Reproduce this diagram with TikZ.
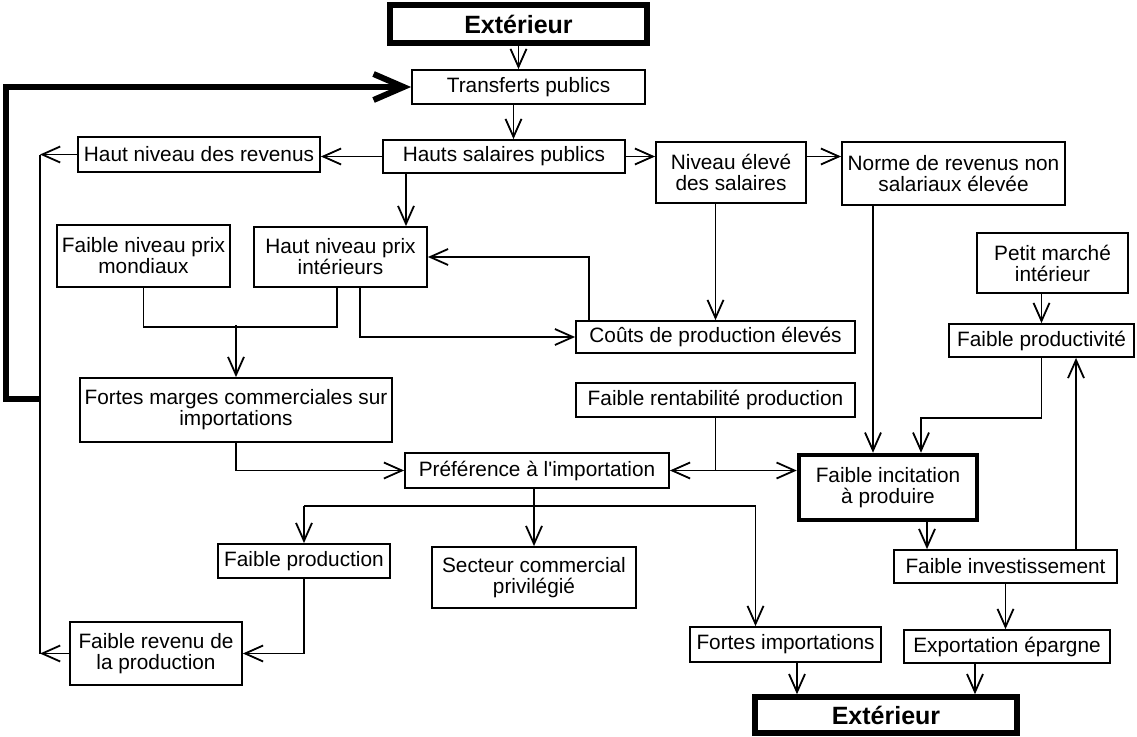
\documentclass[tikz,border=0pt]{standalone}
\usepackage{fontspec}
\setmainfont{Liberation Sans}
\usetikzlibrary{arrows.meta}
\tikzset{
    wh/.style 2 args={minimum width=#1, minimum height=#2},
    box/.style={draw, line width=1.8pt, inner sep=0pt, align=center, font=\fontsize{20.8}{21}\selectfont},
    ext/.style={box, line width=5.5pt, font=\fontsize{25}{26}\selectfont\bfseries},
    arr/.style={line width=1.8pt, -{Straight Barb[length=18pt,width=16pt]}},
    bigarr/.style={line width=6pt, -{Straight Barb[length=30pt,width=26pt]}}
}
\begin{document}
\begin{tikzpicture}[x=1pt,y=-1pt]
        \useasboundingbox (0,0) rectangle (1137,736);

        \node[ext, wh={257}{38}] (ext1) at (518.5,24) {Extérieur};
        \node[box, wh={233}{34}] (trans) at (528.5,87) {Transferts publics};
        \node[box, wh={242}{33}] (hsal) at (504,156.5) {Hauts salaires publics};
        \node[box, wh={242}{35}] (hrev) at (199,154.5) {Haut niveau des revenus};
        \node[box, wh={150}{61}] (nsal) at (731,172.5) {Niveau élevé\\des salaires};
        \node[box, wh={223}{63}] (norme) at (953.5,173.5) {Norme de revenus non\\salariaux élevée};
        \node[box, wh={173}{62}] (fprixm) at (143.5,256) {Faible niveau prix\\mondiaux};
        \node[box, wh={173}{60}] (hprixi) at (340.5,257) {Haut niveau prix\\intérieurs};
        \node[box, wh={151}{60}] (petit) at (1052.5,263) {Petit marché\\intérieur};
        \node[box, wh={279}{32}] (couts) at (715.5,337) {Coûts de production élevés};
        \node[box, wh={185}{33}] (fprod) at (1041.5,340.5) {Faible productivité};
        \node[box, wh={312}{64}] (fmarges) at (236,410) {Fortes marges commerciales sur\\importations};
        \node[box, wh={279}{34}] (frent) at (715.5,400) {Faible rentabilité production};
        \node[box, wh={264}{35}] (pref) at (537,470.5) {Préférence à l\textquotesingle{}importation};
        \node[box, line width=4.5pt, wh={178}{65}] (fincit) at (888,487.5) {Faible incitation\\à produire};
        \node[box, wh={172}{34}] (fprodn) at (304,561) {Faible production};
        \node[box, wh={204}{61}] (secteur) at (534,577.5) {Secteur commercial\\privilégié};
        \node[box, wh={223}{33}] (finv) at (1005.5,566.5) {Faible investissement};
        \node[box, wh={172}{63}] (frevp) at (156,653.5) {Faible revenu de\\la production};
        \node[box, wh={191}{35}] (fimp) at (785.5,644.5) {Fortes importations};
        \node[box, wh={206}{33}] (expep) at (1007,646.5) {Exportation épargne};
        \node[ext, wh={262}{36}] (ext2) at (886,715) {Extérieur};

        \coordinate (bus) at (40,399);
        \coordinate (loop) at (6,399);

        \draw[arr] (ext1.south) -- (ext1.south |- trans.north);
        \draw[arr] ([xshift=-5]ext1.south |- trans.south) -- ([xshift=-5]ext1.south |- hsal.north);
        \draw[arr] (hsal.west) -- (hsal.west -| hrev.east);
        \draw[arr] (hrev.west) -- (hrev.west -| bus);
        \draw[arr] (frevp.west) -- (frevp.west -| bus);
        \draw[line width=1.8pt] (hrev.west -| bus) -- (frevp.west -| bus);
        \draw[bigarr] (bus) -- (loop) |- (trans.west);
        \draw[arr] (hsal.east) -- (hsal.east -| nsal.west);
        \draw[arr] (nsal.east |- hsal.east) -- (norme.west |- hsal.east);
        \draw[arr] ([xshift=-98]hsal.south) -- ([xshift=-98]hsal.south |- hprixi.north);
        \draw[arr] (nsal.south -| couts.north) -- (couts.north);
        \draw[arr] ([xshift=-80.5]norme.south) -- ([xshift=-80.5]norme.south |- fincit.north);
        \draw[arr] (petit.south -| fprod.north) -- (fprod.north);
        \draw[arr] (fprod.south) -- ++(0,60) -| ([xshift=33]fincit.north);
        \draw[arr] ([xshift=70.5]finv.north) -- ([xshift=70.5]finv.north |- fprod.south);
        \draw[arr] ([xshift=-126.5]couts.north) |- (hprixi.east);
        \draw[arr] ([xshift=19.5]hprixi.south) |- (couts.west);
        \draw[line width=1.8pt] (fprixm.south) -- ++(0,39) -| ([xshift=-3.5]hprixi.south);
        \draw[arr] ([yshift=52]fmarges.north) -- (fmarges.north);
        \draw[arr] (fmarges.south) |- (pref.west);
        \draw[arr] (frent.south) |- (pref.east);
        \draw[arr] (frent.south |- pref.east) -- (fincit.west |- pref.east);
        \draw[arr] (pref.south -| secteur.north) -- (secteur.north);
        \draw[arr] ([yshift=37]fprodn.north) -- (fprodn.north);
        \draw[arr] ([yshift=37]fprodn.north) -| ([xshift=-30]fimp.north);
        \draw[arr] (fprodn.south) |- (frevp.east);
        \draw[arr] ([xshift=39]fincit.south) -- ([xshift=39]fincit.south |- finv.north);
        \draw[arr] (finv.south) -- (finv.south |- expep.north);
        \draw[arr] ([xshift=11.5]fimp.south) -- ([xshift=11.5]fimp.south |- ext2.north);
        \draw[arr] ([xshift=-32]expep.south) -- ([xshift=-32]expep.south |- ext2.north);
    \end{tikzpicture}
\end{document}
